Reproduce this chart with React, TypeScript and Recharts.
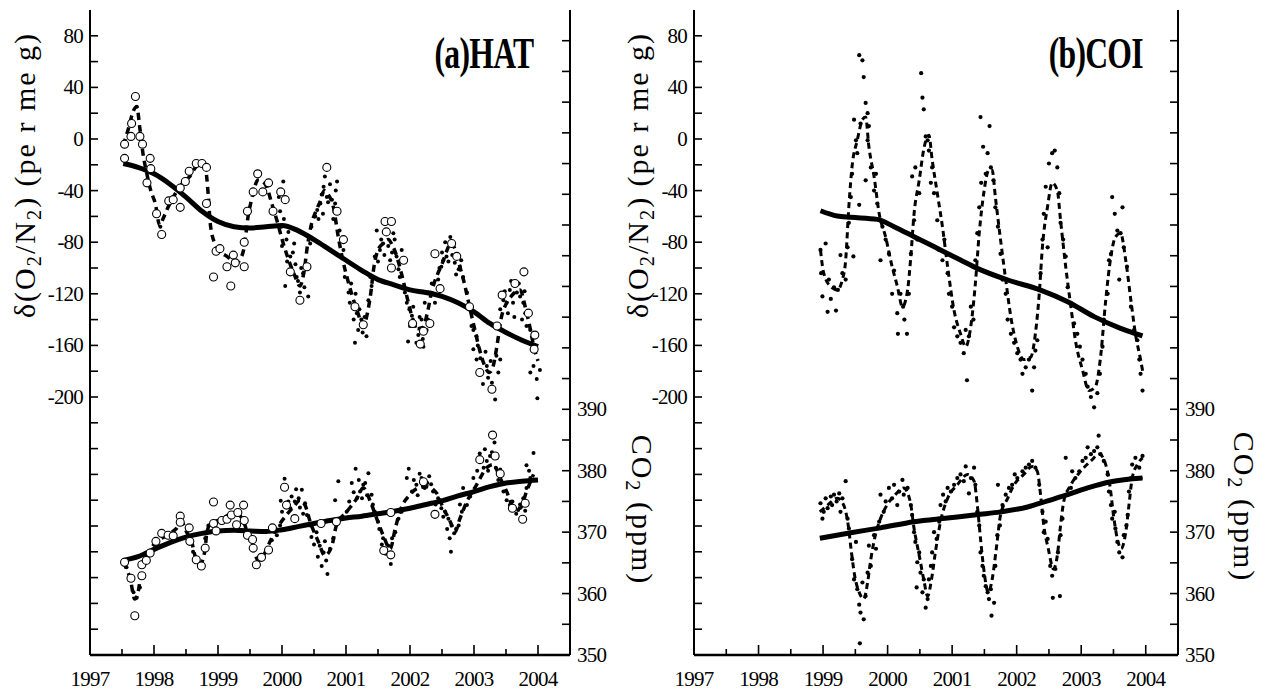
// Two-panel O2/N2 and CO2 record (HAT and COI stations), drawn with Recharts
import React from "react"
import { ComposedChart, Line, Scatter, XAxis, YAxis } from "recharts"

type Pt = [number, number]

const yearTicks = [1997, 1997.5, 1998, 1998.5, 1999, 1999.5, 2000, 2000.5, 2001, 2001.5, 2002, 2002.5, 2003, 2003.5, 2004]
const yearLabels = [1997, 1998, 1999, 2000, 2001, 2002, 2003, 2004]
const o2Ticks = [-380, -360, -340, -320, -300, -280, -260, -240, -220, -200, -180, -160, -140, -120, -100, -80, -60, -40, -20, 0, 20, 40, 60, 80]
const o2Labels = [80, 40, 0, -40, -80, -120, -160, -200]
const co2Ticks = [350, 355, 360, 365, 370, 375, 380, 385, 390, 395, 400, 405, 410, 415, 420, 425, 430, 435, 440, 445, 450]
const co2Labels = [350, 360, 370, 380, 390]

// ---- (a) HAT ----
const hatO2Trend: Pt[] = [
  [1997.52, -19], [1997.75, -22], [1998.0, -27], [1998.25, -35], [1998.5, -45], [1998.75, -56],
  [1999.0, -64], [1999.25, -68], [1999.5, -69], [1999.75, -68], [2000.0, -67], [2000.25, -71],
  [2000.5, -78], [2000.75, -86], [2001.0, -94], [2001.25, -102], [2001.5, -109], [2001.75, -113],
  [2002.0, -117], [2002.25, -119], [2002.5, -122], [2002.75, -127], [2003.0, -134], [2003.25, -143],
  [2003.5, -150], [2003.75, -156], [2004.0, -161],
]
const hatO2Fit: Pt[] = [
  [1997.52, -5], [1997.6, 8], [1997.68, 22], [1997.73, 25], [1997.78, 8], [1997.83, -12], [1997.88, -25],
  [1997.95, -40], [1998.02, -50], [1998.09, -67], [1998.14, -62], [1998.2, -55], [1998.28, -47], [1998.35, -41],
  [1998.45, -34], [1998.56, -29], [1998.65, -22], [1998.72, -19], [1998.8, -22], [1998.85, -45], [1998.88, -66],
  [1998.95, -81], [1999.05, -88], [1999.14, -91], [1999.22, -94], [1999.29, -96], [1999.36, -92], [1999.4, -86],
  [1999.44, -72], [1999.47, -60], [1999.52, -48], [1999.57, -38], [1999.62, -32], [1999.7, -33], [1999.76, -37],
  [1999.84, -50], [1999.92, -63], [2000.02, -81], [2000.12, -96], [2000.2, -106], [2000.28, -114], [2000.34, -104],
  [2000.4, -82], [2000.46, -66], [2000.53, -56], [2000.6, -48], [2000.66, -40], [2000.72, -43], [2000.8, -52],
  [2000.88, -76], [2000.95, -94], [2001.02, -108], [2001.1, -122], [2001.18, -134], [2001.27, -145], [2001.33, -136],
  [2001.38, -122], [2001.44, -98], [2001.5, -86], [2001.58, -81], [2001.66, -78], [2001.72, -82], [2001.8, -92],
  [2001.88, -107], [2001.96, -124], [2002.04, -139], [2002.12, -147], [2002.2, -146], [2002.27, -135], [2002.34, -118],
  [2002.42, -106], [2002.5, -97], [2002.58, -86], [2002.64, -80], [2002.7, -85], [2002.78, -99], [2002.85, -112],
  [2002.93, -130], [2003.0, -145], [2003.08, -162], [2003.16, -175], [2003.24, -181], [2003.3, -176], [2003.36, -160],
  [2003.42, -140], [2003.5, -128], [2003.58, -122], [2003.66, -118], [2003.72, -117], [2003.8, -130], [2003.87, -145],
  [2003.94, -162], [2004.0, -172],
]
const hatO2Dots: Pt[] = [
  [1997.73, 25], [1998.1, -68], [1999.95, -45], [2000.02, -33], [1999.97, -56], [1999.99, -68], [2000.0, -83],
  [2000.07, -78], [2000.05, -114], [2000.13, -91], [2000.19, -81], [2000.23, -107], [2000.28, -119], [2000.33, -104],
  [2000.41, -122], [2000.46, -68], [2000.44, -81], [2000.52, -60], [2000.55, -55], [2000.62, -43], [2000.65, -37],
  [2000.67, -29], [2000.72, -49], [2000.78, -47], [2000.83, -50], [2000.86, -33], [2000.9, -71], [2000.96, -86],
  [2000.98, -107], [2001.04, -119], [2001.06, -127], [2001.17, -135], [2001.19, -148], [2001.24, -140], [2001.32, -153],
  [2001.35, -125], [2001.38, -107], [2001.4, -114], [2001.45, -91], [2001.48, -71], [2001.53, -86], [2001.58, -81],
  [2001.66, -83], [2001.69, -94], [2001.74, -73], [2001.79, -91], [2001.82, -101], [2001.84, -107], [2001.87, -86],
  [2001.92, -119], [2001.95, -127], [2001.99, -132], [2002.03, -137], [2002.08, -145], [2002.13, -152], [2002.18, -140],
  [2002.23, -127], [2002.26, -148], [2002.29, -119], [2002.34, -112], [2002.39, -127], [2002.44, -109], [2002.49, -99],
  [2002.52, -94], [2002.57, -91], [2002.63, -76], [2002.68, -81], [2002.7, -96], [2002.76, -101], [2002.78, -99],
  [2002.83, -107], [2002.89, -119], [2002.94, -132], [2002.96, -145], [2002.99, -148], [2003.04, -153], [2003.41, -132],
  [2003.46, -125], [2003.51, -127], [2003.56, -117], [2003.61, -127], [2003.67, -119], [2003.72, -122], [2003.77, -127],
  [2003.8, -135], [2003.82, -145], [2003.88, -148], [2001.14, -158], [2001.97, -157], [2002.21, -161], [2002.99, -163],
  [2003.04, -171], [2003.12, -181], [2003.2, -176], [2003.28, -189], [2003.33, -202], [2003.38, -181], [2003.41, -171],
  [2003.88, -181], [2003.93, -176], [2003.98, -186], [2003.99, -201], [2004.03, -179],
  [2000.03, -62], [2000.08, -95], [2000.1, -72], [2000.17, -88], [2000.21, -97], [2000.25, -110], [2000.3, -100],
  [2000.35, -115], [2000.57, -62], [2000.6, -50], [2000.64, -58], [2000.7, -45], [2000.75, -35], [2000.8, -62],
  [2000.84, -40], [2001.08, -112], [2001.12, -140], [2001.15, -120], [2001.21, -132], [2001.26, -150], [2001.29, -138],
  [2001.5, -95], [2001.55, -78], [2001.6, -90], [2001.63, -72], [2001.68, -100], [2001.72, -88], [2001.76, -78],
  [2002.0, -145], [2002.05, -130], [2002.1, -158], [2002.15, -138], [2002.2, -155], [2002.28, -140], [2002.46, -100],
  [2002.5, -88], [2002.55, -80], [2002.6, -95], [2002.66, -90], [2002.72, -105], [2002.8, -94], [2003.06, -160],
  [2003.1, -170], [2003.14, -190], [2003.18, -165], [2003.22, -185], [2003.26, -172], [2003.3, -195], [2003.35, -168],
  [2003.48, -118], [2003.53, -135], [2003.58, -110], [2003.63, -138], [2003.7, -112], [2003.75, -140], [2003.79, -118],
]
const hatO2Circles: Pt[] = [
  [1997.54, -4], [1997.54, -15], [1997.64, 2], [1997.65, 12], [1997.71, 33], [1997.78, 2], [1997.82, -4],
  [1997.89, -34], [1997.94, -15], [1997.95, -23], [1998.04, -58], [1998.12, -74], [1998.23, -48], [1998.3, -47],
  [1998.41, -53], [1998.41, -38], [1998.49, -33], [1998.55, -25], [1998.66, -19], [1998.75, -19], [1998.82, -22],
  [1998.82, -50], [1998.93, -107], [1998.97, -87], [1999.03, -85], [1999.14, -99], [1999.2, -114], [1999.24, -90],
  [1999.27, -96], [1999.41, -99], [1999.41, -80], [1999.46, -56], [1999.55, -41], [1999.62, -27], [1999.7, -41],
  [1999.79, -34], [1999.86, -56], [1999.98, -41], [2000.05, -47], [2000.13, -103], [2000.28, -125], [2000.39, -99],
  [2000.7, -22], [2000.86, -56], [2000.96, -78], [2001.14, -130], [2001.27, -144], [2001.61, -64], [2001.71, -64],
  [2001.63, -72], [2001.71, -100], [2001.9, -94], [2002.04, -143], [2002.21, -149], [2002.31, -143], [2002.39, -89],
  [2002.47, -116], [2002.65, -81], [2002.73, -91], [2002.93, -130], [2003.36, -145], [2003.44, -121], [2003.64, -112],
  [2003.78, -103], [2003.85, -135], [2003.95, -152], [2003.28, -194], [2003.09, -181], [2002.16, -159], [2003.94, -163],
]
const hatCo2Trend: Pt[] = [
  [1997.52, 365.4], [1997.75, 366], [1998.0, 367.2], [1998.25, 368.3], [1998.5, 369.2], [1998.75, 369.8],
  [1999.0, 370.2], [1999.25, 370.3], [1999.5, 370.2], [1999.75, 370.1], [2000.0, 370.4], [2000.25, 370.9],
  [2000.5, 371.4], [2000.75, 371.9], [2001.0, 372.3], [2001.25, 372.6], [2001.5, 373.0], [2001.75, 373.4],
  [2002.0, 373.9], [2002.25, 374.5], [2002.5, 375.1], [2002.75, 375.9], [2003.0, 376.6], [2003.25, 377.4],
  [2003.5, 378.0], [2003.75, 378.3], [2004.0, 378.5],
]
const hatCo2Fit: Pt[] = [
  [1997.52, 365.1], [1997.63, 362.3], [1997.7, 359.1], [1997.76, 360.7], [1997.81, 364.5], [1997.91, 366.7],
  [1998.04, 368.4], [1998.2, 369.5], [1998.35, 370.6], [1998.43, 371.7], [1998.51, 370.0], [1998.59, 368.4],
  [1998.64, 366.2], [1998.72, 364.8], [1998.8, 367.3], [1998.82, 369.5], [1998.88, 371.4], [1999.03, 372.0],
  [1999.19, 372.8], [1999.32, 372.8], [1999.4, 371.7], [1999.47, 369.5], [1999.55, 367.3], [1999.63, 365.4],
  [1999.71, 366.2], [1999.81, 368.4], [1999.92, 370.6], [2000.07, 372.8], [2000.18, 374.1], [2000.28, 375.2],
  [2000.36, 374.4], [2000.44, 371.7], [2000.57, 368.4], [2000.67, 366.2], [2000.78, 367.8], [2000.85, 371.1],
  [2001.01, 373.3], [2001.17, 375.5], [2001.27, 377.2], [2001.38, 375.0], [2001.48, 372.2], [2001.58, 369.5],
  [2001.69, 367.3], [2001.77, 370.6], [2001.84, 373.3], [2002.0, 376.1], [2002.13, 377.2], [2002.26, 377.4],
  [2002.42, 376.3], [2002.52, 373.9], [2002.63, 371.7], [2002.7, 370.0], [2002.78, 372.2], [2002.89, 375.0],
  [2003.04, 377.7], [2003.2, 380.5], [2003.3, 381.0], [2003.41, 378.8], [2003.51, 376.6], [2003.61, 374.2],
  [2003.72, 373.9], [2003.82, 376.6], [2003.93, 379.4],
]
const hatCo2Dots: Pt[] = [
  [1997.57, 364.3], [1997.68, 360.2], [1997.73, 359.3], [1997.78, 361.0], [1998.61, 366.8], [1998.8, 369.0],
  [1998.85, 371.1], [1999.84, 368.7], [1999.92, 369.5], [1999.97, 371.1], [2000.0, 373.3], [2000.04, 378.7],
  [1999.98, 375.1], [2000.13, 373.9], [2000.15, 375.8], [2000.2, 375.0], [2000.26, 375.5], [2000.31, 376.9],
  [2000.36, 374.7], [2000.39, 372.8], [2000.44, 371.1], [2000.46, 369.2], [2000.54, 370.0], [2000.59, 367.8],
  [2000.65, 366.7], [2000.69, 365.4], [2000.71, 363.2], [2000.75, 367.3], [2000.8, 369.0], [2000.88, 378.3],
  [2000.83, 375.2], [2000.93, 372.2], [2001.01, 373.3], [2001.09, 378.0], [2001.15, 380.3], [2001.17, 375.5],
  [2001.22, 376.6], [2001.27, 377.7], [2001.35, 379.6], [2001.4, 376.1], [2001.45, 373.3], [2001.5, 371.7],
  [2001.58, 369.0], [2001.66, 367.8], [2001.7, 364.8], [2001.77, 370.0], [2001.82, 372.2], [2001.87, 373.3],
  [2001.95, 378.8], [2001.98, 380.3], [2002.03, 376.6], [2002.1, 377.7], [2002.18, 378.8], [2002.23, 377.2],
  [2002.3, 379.1], [2002.36, 376.6], [2002.44, 375.5], [2002.49, 373.9], [2002.55, 373.3], [2002.6, 372.2],
  [2002.65, 371.1], [2002.69, 369.8], [2002.64, 366.8], [2002.76, 371.1], [2002.81, 373.3], [2002.83, 377.2],
  [2002.89, 374.4], [2002.94, 375.8], [2002.99, 378.8], [2003.09, 382.8], [2003.15, 380.5], [2003.2, 381.6],
  [2003.25, 382.4], [2003.32, 384.6], [2003.36, 382.1], [2003.41, 380.2], [2003.46, 376.6], [2003.51, 375.2],
  [2003.56, 374.4], [2003.64, 373.9], [2003.69, 373.6], [2003.77, 375.5], [2003.82, 377.2], [2003.82, 380.9],
  [2003.88, 378.8], [2003.93, 382.9],
  [2000.1, 375], [2000.17, 372.5], [2000.22, 377], [2000.28, 374], [2000.33, 373], [2000.5, 368], [2000.56, 366],
  [2000.62, 364.5], [2000.67, 368.5], [2001.05, 375], [2001.12, 376.5], [2001.2, 378.5], [2001.25, 375.5],
  [2001.3, 378], [2001.33, 376], [2001.42, 374.5], [2001.52, 370.5], [2001.56, 368], [2001.62, 366.5],
  [2001.68, 366], [2001.72, 369], [2002.06, 378.5], [2002.12, 376], [2002.15, 379.5], [2002.2, 377.5],
  [2002.27, 378], [2002.33, 377.8], [2002.4, 374.5], [2002.52, 372.5], [2002.58, 370.5], [2002.62, 369],
  [2002.72, 370.5], [2002.78, 374.5], [2003.05, 380], [2003.12, 381.5], [2003.17, 383.5], [2003.22, 380],
  [2003.28, 383], [2003.34, 380.5], [2003.38, 378.5], [2003.6, 375], [2003.66, 373], [2003.72, 374.5],
  [2003.8, 373.5], [2003.86, 380],
]
const hatCo2Circles: Pt[] = [
  [1997.54, 365.1], [1997.64, 362.5], [1997.7, 356.4], [1997.81, 364.7], [1997.81, 362.9], [1997.88, 365.4],
  [1997.94, 366.6], [1998.03, 368.5], [1998.12, 369.8], [1998.22, 369.5], [1998.3, 369.4], [1998.41, 372.6],
  [1998.41, 371.6], [1998.55, 370.7], [1998.56, 368.5], [1998.66, 365.5], [1998.74, 364.5], [1998.8, 367.4],
  [1998.93, 374.9], [1998.93, 371.4], [1998.97, 370.2], [1999.06, 371.9], [1999.14, 372.1], [1999.19, 374.4],
  [1999.21, 372.8], [1999.29, 371.2], [1999.31, 373.2], [1999.4, 374.4], [1999.41, 371.9], [1999.46, 369.5],
  [1999.54, 368.8], [1999.55, 367.4], [1999.6, 364.7], [1999.68, 365.9], [1999.79, 367.1], [1999.85, 370.7],
  [2000.04, 377.3], [2000.07, 374.4], [2000.2, 372.2], [2000.61, 371.4], [2000.85, 371.7], [2001.59, 367.0],
  [2001.7, 366.3], [2001.7, 373.2], [2002.21, 378.2], [2002.39, 372.9], [2003.09, 381.8], [2003.29, 385.8],
  [2003.33, 382.4], [2003.41, 379.5], [2003.6, 373.9], [2003.76, 372.1], [2003.8, 374.7],
]

// ---- (b) COI ----
const coiO2Trend: Pt[] = [
  [1998.96, -55.6], [1999.22, -59.7], [1999.43, -60.7], [1999.84, -62.3], [2000.1, -68], [2000.41, -75.7],
  [2000.82, -86], [2001.13, -93.8], [2001.39, -100.3], [2001.86, -109.3], [2002.37, -117.1], [2002.79, -126.1],
  [2003.2, -137.7], [2003.61, -146.8], [2003.95, -152.7],
]
const coiO2Fit: Pt[] = [
  [1998.96, -86], [1999.01, -104], [1999.12, -114.5], [1999.22, -117], [1999.3, -109], [1999.35, -94],
  [1999.4, -52], [1999.45, -21], [1999.53, -1], [1999.61, 15], [1999.66, 17], [1999.71, -6], [1999.79, -29],
  [1999.87, -58], [1999.97, -76], [2000.07, -99], [2000.15, -114], [2000.23, -130], [2000.31, -117],
  [2000.36, -91], [2000.41, -58], [2000.49, -32], [2000.56, -8], [2000.64, 3], [2000.69, -16], [2000.77, -42],
  [2000.85, -68], [2000.93, -99], [2001.03, -133], [2001.13, -151], [2001.21, -161], [2001.29, -145],
  [2001.36, -112], [2001.42, -73], [2001.49, -42], [2001.57, -24], [2001.62, -24], [2001.67, -45], [2001.75, -78],
  [2001.83, -109], [2001.91, -138], [2002.01, -161], [2002.11, -171], [2002.22, -169], [2002.29, -151],
  [2002.35, -120], [2002.4, -83], [2002.48, -52], [2002.55, -34], [2002.63, -40], [2002.68, -63], [2002.76, -99],
  [2002.84, -130], [2002.91, -156], [2003.02, -179], [2003.12, -195], [2003.22, -192], [2003.3, -169],
  [2003.38, -125], [2003.46, -91], [2003.53, -76], [2003.61, -73], [2003.69, -94], [2003.77, -125],
  [2003.84, -151], [2003.92, -171], [2003.96, -182],
]
const coiO2Dots: Pt[] = [
  [1998.96, -86], [1998.97, -104], [1998.99, -122], [1999.04, -81], [1999.07, -134], [1999.09, -109], [1999.12, -124],
  [1999.17, -115], [1999.2, -133], [1999.23, -117], [1999.27, -90], [1999.3, -104], [1999.35, -109], [1999.38, -84],
  [1999.4, -65], [1999.43, -45], [1999.47, -91], [1999.45, -27], [1999.48, 15], [1999.51, -1], [1999.53, -11],
  [1999.56, 65], [1999.58, 12], [1999.61, 61], [1999.63, 48], [1999.66, 28], [1999.69, 20], [1999.69, -1],
  [1999.71, 10], [1999.66, -32], [1999.56, -51], [1999.74, -22], [1999.79, -40], [1999.82, -27], [1999.84, -50],
  [1999.89, -94], [1999.92, -68], [1999.97, -78], [2000.02, -89], [2000.07, -120], [2000.1, -102], [2000.15, -135],
  [2000.16, -151], [2000.2, -120], [2000.24, -130], [2000.26, -140], [2000.3, -151], [2000.33, -120], [2000.36, -89],
  [2000.38, -29], [2000.41, -63], [2000.43, -22], [2000.46, -78], [2000.49, -42], [2000.52, 51], [2000.54, 32],
  [2000.56, 23], [2000.59, 2], [2000.62, -1], [2000.64, -9], [2000.67, -34], [2000.69, -22], [2000.72, -42],
  [2000.77, -63], [2000.8, -86], [2000.85, -94], [2000.88, -78], [2000.93, -104], [2000.95, -120], [2001.0, -130],
  [2001.03, -146], [2001.08, -153], [2001.13, -158], [2001.18, -166], [2001.23, -187], [2001.21, -148], [2001.26, -153],
  [2001.29, -130], [2001.33, -140], [2001.36, -94], [2001.39, -73], [2001.42, -53], [2001.44, 17], [2001.45, -34],
  [2001.48, -6], [2001.52, -27], [2001.55, -11], [2001.58, 10], [2001.6, -22], [2001.64, -32], [2001.67, -53],
  [2001.71, -68], [2001.75, -89], [2001.78, -109], [2001.83, -120], [2001.86, -140], [2001.91, -151], [2001.96, -158],
  [2002.01, -166], [2002.06, -171], [2002.09, -182], [2002.14, -177], [2002.19, -171], [2002.24, -195], [2002.27, -177],
  [2002.29, -164], [2002.32, -156], [2002.37, -104], [2002.4, -78], [2002.42, -58], [2002.45, -37], [2002.48, -84],
  [2002.5, -19], [2002.55, -11], [2002.59, -9], [2002.63, -22], [2002.66, -42], [2002.68, -65], [2002.72, -78],
  [2002.76, -91], [2002.79, -115], [2002.84, -127], [2002.89, -143], [2002.94, -151], [2002.98, -161], [2003.02, -171],
  [2003.07, -182], [2003.1, -192], [2003.15, -200], [2003.2, -208], [2003.25, -197], [2003.29, -182], [2003.33, -161],
  [2003.35, -140], [2003.41, -120], [2003.43, -94], [2003.46, -89], [2003.48, -45], [2003.52, -58], [2003.56, -71],
  [2003.59, -109], [2003.61, -73], [2003.64, -53], [2003.66, -84], [2003.71, -99], [2003.77, -130], [2003.82, -148],
  [2003.87, -156], [2003.9, -171], [2003.92, -182], [2003.95, -195],
]
const coiCo2Trend: Pt[] = [
  [1998.95, 369.0], [1999.43, 369.9], [1999.89, 370.7], [2000.41, 371.7], [2000.93, 372.3], [2001.44, 372.9],
  [2001.75, 373.3], [2002.17, 374.1], [2002.48, 375.1], [2002.79, 376.1], [2003.1, 377.2], [2003.46, 378.2],
  [2003.95, 378.8],
]
const coiCo2Fit: Pt[] = [
  [1998.95, 373.3], [1999.07, 374.4], [1999.22, 375.5], [1999.32, 374.4], [1999.39, 371.1], [1999.44, 366.7],
  [1999.49, 362.9], [1999.56, 360.2], [1999.63, 359.1], [1999.69, 361.8], [1999.74, 365.6], [1999.81, 369.5],
  [1999.89, 372.2], [1999.99, 374.4], [2000.12, 376.1], [2000.25, 377.2], [2000.35, 375.0], [2000.41, 370.6],
  [2000.49, 366.2], [2000.56, 362.3], [2000.62, 359.6], [2000.68, 362.3], [2000.74, 366.7], [2000.82, 371.7],
  [2000.93, 375.5], [2001.08, 377.7], [2001.24, 379.4], [2001.34, 378.3], [2001.39, 374.4], [2001.44, 368.9],
  [2001.49, 364.0], [2001.56, 360.2], [2001.62, 362.3], [2001.69, 367.8], [2001.75, 372.8], [2001.86, 375.5],
  [2001.96, 377.7], [2002.11, 379.4], [2002.24, 380.7], [2002.32, 379.9], [2002.37, 376.1], [2002.42, 371.1],
  [2002.49, 367.3], [2002.57, 364.0], [2002.63, 366.2], [2002.68, 371.1], [2002.73, 375.0], [2002.84, 377.7],
  [2002.99, 379.9], [2003.15, 381.6], [2003.28, 382.7], [2003.38, 381.0], [2003.45, 377.2], [2003.5, 372.8],
  [2003.56, 368.9], [2003.62, 367.3], [2003.69, 370.0], [2003.74, 374.4], [2003.79, 378.8], [2003.87, 381.0],
  [2003.95, 382.1],
]
const coiCo2Dots: Pt[] = [
  [1998.96, 374.7], [1998.99, 372.2], [1999.01, 373.3], [1999.04, 375.5], [1999.07, 373.9], [1999.12, 375.8],
  [1999.14, 374.4], [1999.17, 376.1], [1999.21, 375.0], [1999.25, 376.3], [1999.27, 373.3], [1999.3, 375.5],
  [1999.35, 378.3], [1999.38, 372.2], [1999.4, 370.6], [1999.45, 365.6], [1999.48, 362.3], [1999.51, 368.4],
  [1999.53, 360.7], [1999.56, 358.2], [1999.58, 356.9], [1999.61, 361.8], [1999.63, 355.8], [1999.57, 351.9],
  [1999.66, 359.6], [1999.69, 363.4], [1999.71, 367.8], [1999.74, 364.5], [1999.79, 369.5], [1999.82, 367.3],
  [1999.87, 371.7], [1999.89, 376.1], [1999.94, 373.3], [1999.97, 375.0], [2000.02, 377.2], [2000.07, 375.5],
  [2000.1, 377.7], [2000.15, 374.4], [2000.18, 376.6], [2000.23, 378.5], [2000.25, 376.1], [2000.31, 377.2],
  [2000.36, 374.4], [2000.38, 372.8], [2000.41, 370.0], [2000.43, 368.4], [2000.46, 365.1], [2000.49, 366.7],
  [2000.51, 363.4], [2000.45, 361.0], [2000.54, 360.2], [2000.56, 362.3], [2000.59, 357.7], [2000.62, 359.1],
  [2000.64, 362.3], [2000.67, 364.5], [2000.69, 366.7], [2000.72, 370.0], [2000.76, 368.9], [2000.8, 371.7],
  [2000.82, 374.4], [2000.86, 376.1], [2000.9, 375.0], [2000.93, 377.2], [2000.98, 376.6], [2001.03, 377.7],
  [2001.08, 378.8], [2001.13, 379.4], [2001.18, 378.3], [2001.21, 380.7], [2001.26, 376.3], [2001.29, 378.8],
  [2001.34, 380.5], [2001.36, 377.7], [2001.39, 373.3], [2001.42, 371.1], [2001.44, 366.7], [2001.47, 364.5],
  [2001.49, 362.9], [2001.52, 361.2], [2001.55, 360.2], [2001.57, 359.1], [2001.6, 360.7], [2001.61, 356.4],
  [2001.65, 358.5], [2001.67, 364.5], [2001.7, 369.5], [2001.71, 377.7], [2001.74, 371.1], [2001.78, 374.4],
  [2001.83, 376.1], [2001.88, 377.2], [2001.93, 377.7], [2001.97, 379.4], [2002.01, 378.8], [2002.09, 379.9],
  [2002.14, 380.5], [2002.19, 381.0], [2002.24, 381.6], [2002.29, 380.5], [2002.35, 377.7], [2002.4, 373.3],
  [2002.42, 370.0], [2002.45, 371.7], [2002.48, 368.9], [2002.52, 364.5], [2002.55, 362.9], [2002.56, 359.3],
  [2002.6, 364.0], [2002.64, 366.7], [2002.67, 359.6], [2002.68, 369.5], [2002.71, 372.2], [2002.76, 382.1],
  [2002.79, 376.1], [2002.84, 377.2], [2002.86, 379.9], [2002.91, 378.8], [2002.97, 379.9], [2003.02, 381.6],
  [2003.07, 382.1], [2003.1, 383.8], [2003.15, 382.7], [2003.2, 383.2], [2003.25, 383.8], [2003.27, 385.7],
  [2003.3, 382.7], [2003.35, 381.6], [2003.41, 379.4], [2003.43, 376.6], [2003.46, 374.4], [2003.48, 372.2],
  [2003.52, 373.3], [2003.53, 370.6], [2003.56, 368.4], [2003.59, 366.7], [2003.64, 365.9], [2003.66, 369.5],
  [2003.7, 371.1], [2003.72, 372.8], [2003.74, 376.6], [2003.77, 378.8], [2003.79, 381.0], [2003.84, 382.1],
  [2003.9, 380.5], [2003.95, 382.4], [2003.92, 378.8],
]

const serif = '"Liberation Serif", serif'
const toXY = (pts: Pt[]) => pts.map(([x, y]) => ({ x, y }))

const tickText = { fontFamily: serif, fontSize: 21, letterSpacing: -0.8, fill: "#000" }

function LeftTick(props: any) {
  const { x, y, payload } = props
  const v = payload.value
  return (
    <g>
      <line x1={x} x2={x + 8} y1={y} y2={y} stroke="#000" strokeWidth={1.6} />
      {o2Labels.includes(v) && (
        <text x={x - 7} y={y + 7} textAnchor="end" style={tickText}>{`${v}`}</text>
      )}
    </g>
  )
}

function RightTick(props: any) {
  const { x, y, payload } = props
  const v = payload.value
  return (
    <g>
      <line x1={x} x2={x - 8} y1={y} y2={y} stroke="#000" strokeWidth={1.6} />
      {co2Labels.includes(v) && (
        <text x={x + 7} y={y + 7} textAnchor="start" style={tickText}>{`${v}`}</text>
      )}
    </g>
  )
}

function BottomTick(props: any) {
  const { x, y, payload } = props
  const v = payload.value
  const major = yearLabels.includes(v)
  return (
    <g>
      <line x1={x} x2={x} y1={y} y2={y - (major ? 10 : 6)} stroke="#000" strokeWidth={1.6} />
      {major && (
        <text x={x} y={y + 31} textAnchor="middle" style={tickText}>{`${v}`}</text>
      )}
    </g>
  )
}

function TopTick(props: any) {
  const { x, y, payload } = props
  const major = yearLabels.includes(payload.value)
  return <line x1={x} x2={x} y1={y} y2={y + (major ? 10 : 6)} stroke="#000" strokeWidth={1.6} />
}

const dot = (r: number) => (p: any) => <circle cx={p.cx} cy={p.cy} r={r} fill="#000" />
const ring = (p: any) => <circle cx={p.cx} cy={p.cy} r={4} fill="#fff" stroke="#000" strokeWidth={1.1} />

interface PanelProps {
  left: number
  width: number
  margin: { top: number; right: number; bottom: number; left: number }
  leftAxisWidth: number
  o2Trend: Pt[]
  o2Fit: Pt[]
  o2Dots: Pt[]
  o2Circles?: Pt[]
  co2Trend: Pt[]
  co2Fit: Pt[]
  co2Dots: Pt[]
  co2Circles?: Pt[]
  heavy: boolean
}

function Panel(p: PanelProps) {
  const fitW = p.heavy ? 3.5 : 3
  const fitDash = p.heavy ? "7 5" : "6 4"
  const r = p.heavy ? 2 : 2.1
  return (
    <div style={{ position: "absolute", left: p.left, top: 0 }}>
      <ComposedChart width={p.width} height={693} margin={p.margin}>
        <XAxis
          xAxisId="bottom"
          type="number"
          dataKey="x"
          domain={[1997, 2004.5]}
          ticks={yearTicks}
          interval={0}
          height={30}
          tickSize={0}
          tickMargin={0}
          tickLine={false}
          axisLine={{ stroke: "#000", strokeWidth: 2.4 }}
          tick={BottomTick}
        />
        <XAxis
          xAxisId="top"
          orientation="top"
          type="number"
          dataKey="x"
          domain={[1997, 2004.5]}
          ticks={yearTicks}
          interval={0}
          height={0}
          tickSize={0}
          tickMargin={0}
          tickLine={false}
          axisLine={{ stroke: "#000", strokeWidth: 2 }}
          tick={TopTick}
        />
        <YAxis
          yAxisId="o2"
          type="number"
          dataKey="y"
          domain={[-400, 100]}
          ticks={o2Ticks}
          interval={0}
          width={p.leftAxisWidth}
          tickSize={0}
          tickMargin={0}
          tickLine={false}
          axisLine={{ stroke: "#000", strokeWidth: 2 }}
          tick={LeftTick}
        />
        <YAxis
          yAxisId="co2"
          orientation="right"
          type="number"
          dataKey="y"
          domain={[350, 455]}
          ticks={co2Ticks}
          interval={0}
          width={50}
          tickSize={0}
          tickMargin={0}
          tickLine={false}
          axisLine={{ stroke: "#000", strokeWidth: 2 }}
          tick={RightTick}
        />

        <Line xAxisId="bottom" yAxisId="o2" data={toXY(p.o2Fit)} dataKey="y" type="monotone" stroke="#000"
          strokeWidth={fitW} strokeDasharray={fitDash} dot={false} activeDot={false} isAnimationActive={false} />
        <Line xAxisId="bottom" yAxisId="co2" data={toXY(p.co2Fit)} dataKey="y" type="monotone" stroke="#000"
          strokeWidth={fitW} strokeDasharray={fitDash} dot={false} activeDot={false} isAnimationActive={false} />
        <Scatter xAxisId="bottom" yAxisId="o2" data={toXY(p.o2Dots)} shape={dot(r)} isAnimationActive={false} />
        <Scatter xAxisId="bottom" yAxisId="co2" data={toXY(p.co2Dots)} shape={dot(r)} isAnimationActive={false} />
        <Line xAxisId="top" yAxisId="o2" data={toXY(p.o2Trend)} dataKey="y" type="monotone" stroke="#000"
          strokeWidth={5} dot={false} activeDot={false} isAnimationActive={false} />
        <Line xAxisId="top" yAxisId="co2" data={toXY(p.co2Trend)} dataKey="y" type="monotone" stroke="#000"
          strokeWidth={5} dot={false} activeDot={false} isAnimationActive={false} />
        {p.o2Circles && (
          <Scatter xAxisId="bottom" yAxisId="o2" data={toXY(p.o2Circles)} shape={ring} isAnimationActive={false} />
        )}
        {p.co2Circles && (
          <Scatter xAxisId="bottom" yAxisId="co2" data={toXY(p.co2Circles)} shape={ring} isAnimationActive={false} />
        )}
      </ComposedChart>
    </div>
  )
}

const sub = { fontSize: "0.68em", verticalAlign: "-0.28em" }
const axisTitle: React.CSSProperties = {
  position: "absolute",
  fontFamily: serif,
  fontSize: 30,
  letterSpacing: 2,
  lineHeight: 1,
  whiteSpace: "nowrap",
  color: "#000",
}

function O2Title({ cx, cy }: { cx: number; cy: number }) {
  return (
    <div style={{ ...axisTitle, left: cx, top: cy, transform: "translate(-50%, -50%) rotate(-90deg)" }}>
      δ(O<span style={sub}>2</span>/N<span style={sub}>2</span>) (pe r me g)
    </div>
  )
}

function Co2Title({ cx, cy }: { cx: number; cy: number }) {
  return (
    <div style={{ ...axisTitle, left: cx, top: cy, transform: "translate(-50%, -50%) rotate(90deg)" }}>
      CO<span style={sub}>2</span> (ppm)
    </div>
  )
}

function PanelTitle({ right, cy, text }: { right: number; cy: number; text: string }) {
  return (
    <div
      style={{
        position: "absolute",
        right: 1272 - right,
        top: cy,
        fontFamily: serif,
        fontWeight: 700,
        fontSize: 44,
        lineHeight: 1,
        letterSpacing: -1,
        whiteSpace: "nowrap",
        transform: "translateY(-60%) scaleX(0.72)",
        transformOrigin: "right center",
      }}
    >
      {text}
    </div>
  )
}

export default function App() {
  return (
    <div style={{ position: "relative", width: 1272, height: 693, margin: "-8px 0 0 -8px", background: "#fff", overflow: "hidden" }}>
      <Panel
        left={0}
        width={640}
        margin={{ top: 10, right: 20, bottom: 8, left: 30 }}
        leftAxisWidth={60}
        o2Trend={hatO2Trend}
        o2Fit={hatO2Fit}
        o2Dots={hatO2Dots}
        o2Circles={hatO2Circles}
        co2Trend={hatCo2Trend}
        co2Fit={hatCo2Fit}
        co2Dots={hatCo2Dots}
        co2Circles={hatCo2Circles}
        heavy
      />
      <Panel
        left={640}
        width={632}
        margin={{ top: 10, right: 44, bottom: 8, left: 0 }}
        leftAxisWidth={54}
        o2Trend={coiO2Trend}
        o2Fit={coiO2Fit}
        o2Dots={coiO2Dots}
        co2Trend={coiCo2Trend}
        co2Fit={coiCo2Fit}
        co2Dots={coiCo2Dots}
        heavy={false}
      />
      <O2Title cx={27} cy={175} />
      <Co2Title cx={640} cy={510} />
      <O2Title cx={640} cy={175} />
      <Co2Title cx={1242} cy={507} />
      <PanelTitle right={533} cy={58} text="(a)HAT" />
      <PanelTitle right={1143} cy={58} text="(b)COI" />
    </div>
  )
}
